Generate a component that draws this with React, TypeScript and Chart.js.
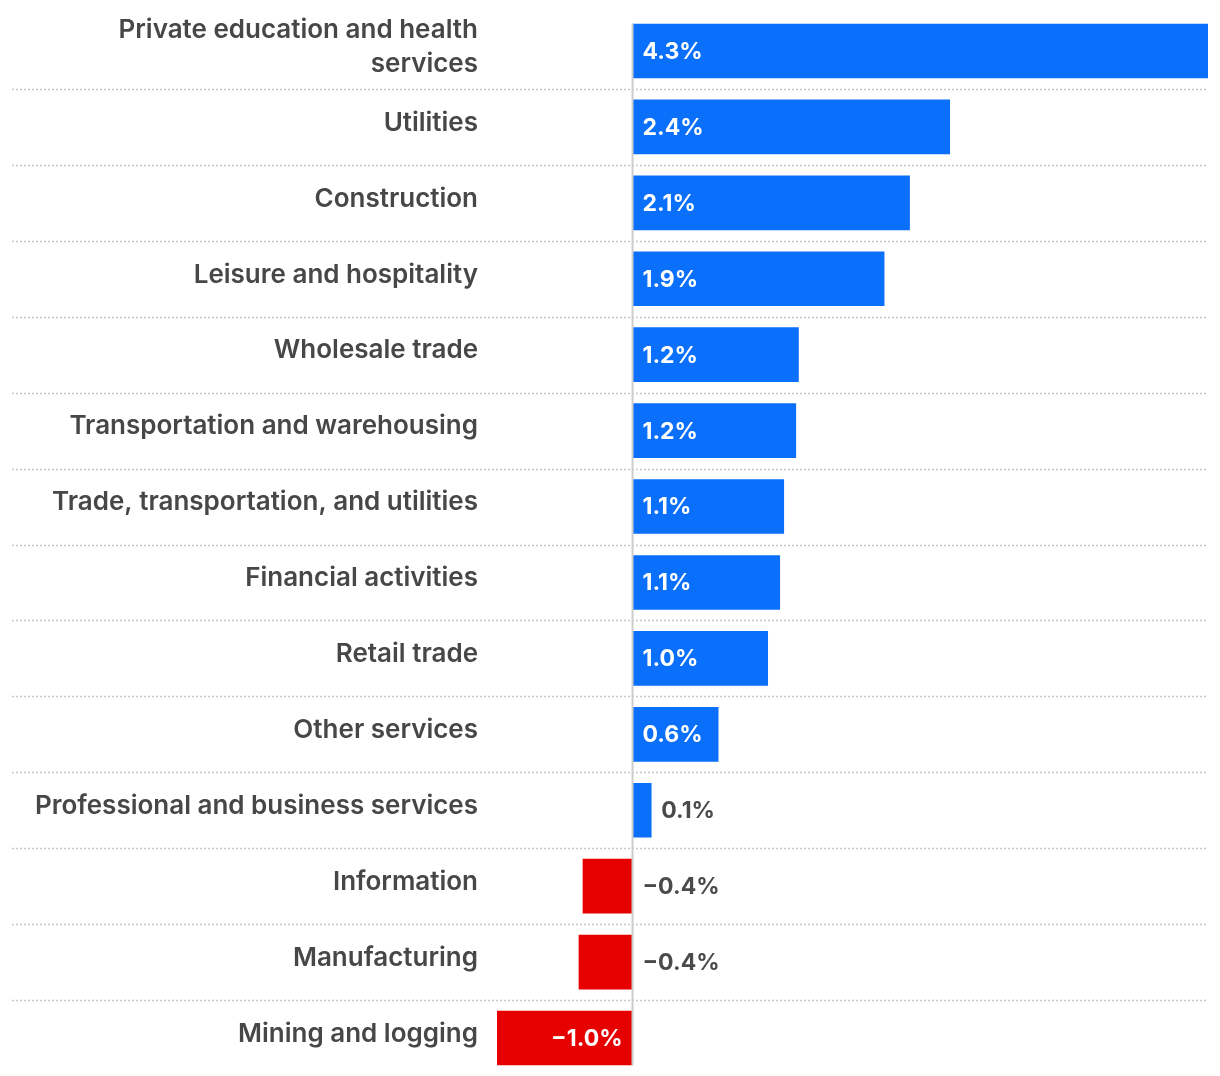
import React, { useEffect, useRef } from "react";
import { Chart, registerables } from "chart.js";

Chart.register(...registerables);

const categories: (string | string[])[] = [
  ["Private education and health", "services"],
  "Utilities",
  "Construction",
  "Leisure and hospitality",
  "Wholesale trade",
  "Transportation and warehousing",
  "Trade, transportation, and utilities",
  "Financial activities",
  "Retail trade",
  "Other services",
  "Professional and business services",
  "Information",
  "Manufacturing",
  "Mining and logging",
];

const values: number[] = [4.3, 2.37, 2.07, 1.88, 1.24, 1.22, 1.13, 1.1, 1.01, 0.64, 0.14, -0.37, -0.4, -1.01];

const BLUE = "#0a6ffb";
const RED = "#e60000";
const FONT = "Inter, 'Noto Sans', sans-serif";

function fmt(v: number): string {
  const s = Math.abs(v).toFixed(1) + "%";
  return v < 0 ? "\u2212" + s : s;
}

const decorPlugin = {
  id: "decor",
  beforeDatasetsDraw(chart: any) {
    const { ctx, chartArea } = chart;
    const y = chart.scales.y;
    const n = categories.length;
    ctx.save();
    ctx.strokeStyle = "#c8c8c8";
    ctx.lineWidth = 1.5;
    ctx.setLineDash([2, 2]);
    for (let i = 0; i < n - 1; i++) {
      const yy = Math.round((y.getPixelForValue(i) + y.getPixelForValue(i + 1)) / 2) + 0.5;
      ctx.beginPath();
      ctx.moveTo(4, yy);
      ctx.lineTo(chartArea.right, yy);
      ctx.stroke();
    }
    ctx.restore();
  },
  afterDatasetsDraw(chart: any) {
    const { ctx } = chart;
    const x = chart.scales.x;
    const meta = chart.getDatasetMeta(0);
    const x0 = x.getPixelForValue(0);
    const first = meta.data[0];
    const last = meta.data[meta.data.length - 1];
    ctx.save();
    ctx.strokeStyle = "#cccccc";
    ctx.lineWidth = 2;
    ctx.beginPath();
    ctx.moveTo(x0, first.y - first.height / 2);
    ctx.lineTo(x0, last.y + last.height / 2);
    ctx.stroke();

    ctx.font = `700 23px ${FONT}`;
    ctx.textBaseline = "middle";
    meta.data.forEach((bar: any, i: number) => {
      const v = values[i];
      const text = fmt(v);
      const w = ctx.measureText(text).width;
      const barW = Math.abs(bar.x - x0);
      if (v >= 0) {
        if (barW > w + 20) {
          ctx.fillStyle = "#ffffff";
          ctx.textAlign = "left";
          ctx.fillText(text, x0 + 10, bar.y + 1);
        } else {
          ctx.fillStyle = "#4a4a4a";
          ctx.textAlign = "left";
          ctx.fillText(text, bar.x + 10, bar.y + 1);
        }
      } else {
        if (barW > w + 20) {
          ctx.fillStyle = "#ffffff";
          ctx.textAlign = "right";
          ctx.fillText(text, x0 - 10, bar.y + 1);
        } else {
          ctx.fillStyle = "#4a4a4a";
          ctx.textAlign = "left";
          ctx.fillText(text, x0 + 10, bar.y + 1);
        }
      }
    });
    ctx.restore();
  },
};

export default function App() {
  const ref = useRef<HTMLCanvasElement>(null);
  useEffect(() => {
    if (!ref.current) return;
    const chart = new Chart(ref.current, {
      type: "bar",
      data: {
        labels: categories,
        datasets: [
          {
            data: values,
            backgroundColor: values.map((v) => (v >= 0 ? BLUE : RED)),
            barThickness: 54,
            borderWidth: 0,
          },
        ],
      },
      options: {
        indexAxis: "y",
        animation: false,
        responsive: false,
        layout: { padding: { top: 5, right: 4, bottom: 0, left: 0 } },
        plugins: { legend: { display: false }, tooltip: { enabled: false } },
        scales: {
          x: {
            min: -1.02,
            max: 4.3,
            display: false,
          },
          y: {
            grid: { display: false, drawTicks: false },
            border: { display: false },
            afterFit: (scale: any) => {
              scale.width = 488;
              scale.paddingTop = 0;
              scale.paddingBottom = 0;
            },
            ticks: {
              padding: 18,
              labelOffset: -4,
              color: "#474747",
              font: { family: FONT, size: 26, weight: "600", lineHeight: 1.3 },
            },
          },
        },
      },
      plugins: [decorPlugin],
    });
    return () => chart.destroy();
  }, []);
  return <canvas ref={ref} width={1204} height={1068} style={{ display: "block" }} />;
}
